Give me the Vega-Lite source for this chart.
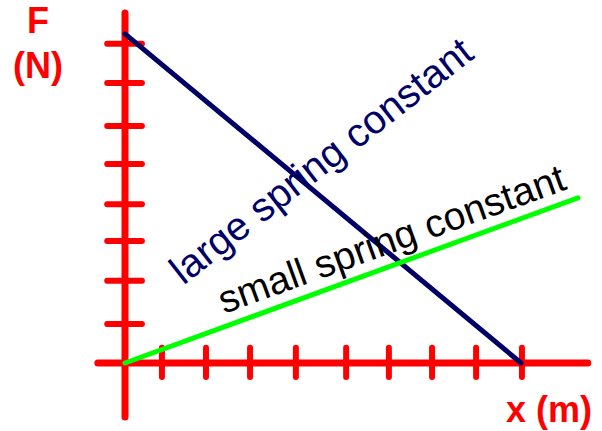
{
  "$schema": "https://vega.github.io/schema/vega-lite/v6.json",
  "width": 602,
  "height": 431,
  "autosize": "none",
  "padding": 0,
  "background": "white",
  "config": {"view": {"stroke": null}},
  "datasets": {
    "axes": [
      {"x": 0, "y": 8.77, "x2": 0, "y2": -1.35},
      {"x": -0.61, "y": 0, "x2": 10.4, "y2": 0}
    ],
    "yticks": [
      {"x": -0.4, "x2": 0.38, "y": 8.0},
      {"x": -0.4, "x2": 0.38, "y": 7.02},
      {"x": -0.4, "x2": 0.38, "y": 5.94},
      {"x": -0.4, "x2": 0.38, "y": 4.99},
      {"x": -0.4, "x2": 0.38, "y": 3.98},
      {"x": -0.4, "x2": 0.38, "y": 3.06},
      {"x": -0.4, "x2": 0.38, "y": 2.06},
      {"x": -0.4, "x2": 0.38, "y": 0.98}
    ],
    "xticks": [
      {"x": 0.83, "y": 0.38, "y2": -0.35},
      {"x": 1.82, "y": 0.38, "y2": -0.35},
      {"x": 2.81, "y": 0.38, "y2": -0.35},
      {"x": 3.84, "y": 0.38, "y2": -0.35},
      {"x": 4.97, "y": 0.38, "y2": -0.35},
      {"x": 5.93, "y": 0.38, "y2": -0.35},
      {"x": 6.9, "y": 0.38, "y2": -0.35},
      {"x": 7.89, "y": 0.38, "y2": -0.35},
      {"x": 8.92, "y": 0.38, "y2": -0.35}
    ],
    "springs": [
      {"spring": "large", "x": 0, "y": 8.25, "x2": 8.9, "y2": 0},
      {"spring": "small", "x": 0, "y": 0, "x2": 10.18, "y2": 4.14}
    ],
    "axislabels": [
      {"label": "F", "x": -1.955, "y": 8.27},
      {"label": "(N)", "x": -1.955, "y": 7.14},
      {"label": "x (m)", "x": 9.53, "y": -1.48}
    ]
  },
  "layer": [
    {
      "data": {"name": "axes"},
      "mark": {"type": "rule", "color": "#FF0000", "strokeWidth": 7, "strokeCap": "round"},
      "encoding": {
        "x": {"field": "x", "type": "quantitative", "scale": {"domain": [-2.809, 10.719], "nice": false, "zero": false}, "axis": null},
        "y": {"field": "y", "type": "quantitative", "scale": {"domain": [-1.704, 9.098], "nice": false, "zero": false}, "axis": null},
        "x2": {"field": "x2"},
        "y2": {"field": "y2"}
      }
    },
    {
      "data": {"name": "yticks"},
      "mark": {"type": "rule", "color": "#FF0000", "strokeWidth": 6, "strokeCap": "round"},
      "encoding": {
        "x": {"field": "x", "type": "quantitative"},
        "x2": {"field": "x2"},
        "y": {"field": "y", "type": "quantitative"}
      }
    },
    {
      "data": {"name": "xticks"},
      "mark": {"type": "rule", "color": "#FF0000", "strokeWidth": 6, "strokeCap": "round"},
      "encoding": {
        "x": {"field": "x", "type": "quantitative"},
        "y": {"field": "y", "type": "quantitative"},
        "y2": {"field": "y2"}
      }
    },
    {
      "data": {"name": "springs"},
      "mark": {"type": "rule", "strokeWidth": 5, "strokeCap": "round"},
      "encoding": {
        "x": {"field": "x", "type": "quantitative"},
        "y": {"field": "y", "type": "quantitative"},
        "x2": {"field": "x2"},
        "y2": {"field": "y2"},
        "color": {"field": "spring", "type": "nominal", "scale": {"domain": ["large", "small"], "range": ["#000066", "#00FF00"]}, "legend": null}
      }
    },
    {
      "data": {"name": "axislabels"},
      "mark": {"type": "text", "color": "#FF0000", "font": "Liberation Sans", "fontWeight": "bold", "fontSize": 36, "align": "center", "baseline": "alphabetic"},
      "encoding": {
        "x": {"field": "x", "type": "quantitative"},
        "y": {"field": "y", "type": "quantitative"},
        "text": {"field": "label"}
      }
    },
    {
      "data": {"values": [{"label": "large spring constant", "x": 4.43, "y": 5.04}]},
      "mark": {"type": "text", "color": "#000066", "font": "Liberation Sans", "fontSize": 40, "angle": -38, "align": "center", "baseline": "middle"},
      "encoding": {
        "x": {"field": "x", "type": "quantitative"},
        "y": {"field": "y", "type": "quantitative"},
        "text": {"field": "label"}
      }
    },
    {
      "data": {"values": [{"label": "small spring constant", "x": 6.0, "y": 3.08}]},
      "mark": {"type": "text", "color": "#000000", "font": "Liberation Sans", "fontSize": 39, "angle": -20, "align": "center", "baseline": "middle"},
      "encoding": {
        "x": {"field": "x", "type": "quantitative"},
        "y": {"field": "y", "type": "quantitative"},
        "text": {"field": "label"}
      }
    }
  ]
}
